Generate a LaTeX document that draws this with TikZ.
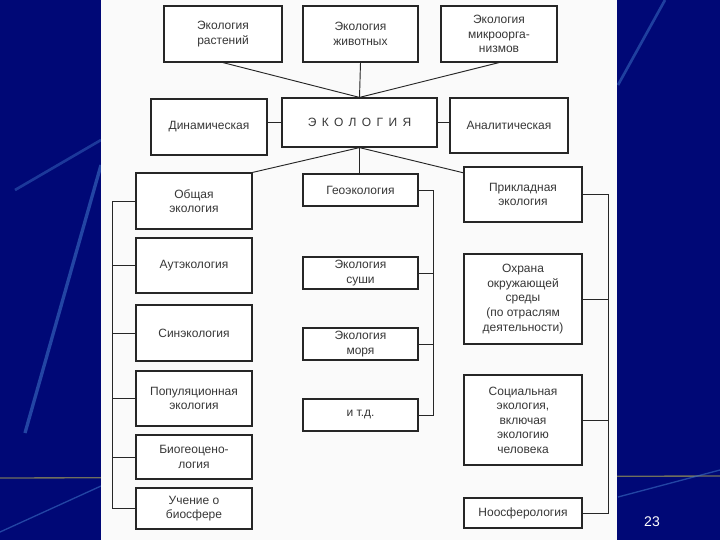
\documentclass[tikz,border=0pt]{standalone}
\usepackage{fontspec}
\setmainfont{Liberation Sans}
\usepackage{xcolor}
\definecolor{slidebg}{RGB}{0,8,118}
\definecolor{streak}{RGB}{70,130,210}
\definecolor{paper}{RGB}{250,250,250}
\definecolor{inkgray}{RGB}{55,55,55}

\begin{document}
\begin{tikzpicture}[x=0.75pt, y=-0.75pt,
        box/.style={rectangle,draw=black!85,fill=white,line width=0.9pt,
          text=inkgray,align=center,inner sep=1pt,
          font=\fontsize{9}{10.9}\selectfont},
        link/.style={draw=black!85,line width=0.7pt}]
  % slide background
  \useasboundingbox (0,0) rectangle (720,540);
  \fill[slidebg] (0,0) rectangle (720,540);
  \draw[streak,line width=2pt,opacity=0.4] (15,190) -- (101,140);
  \draw[streak,line width=2.5pt,opacity=0.5] (25,433) -- (101,165);
  \draw[streak,line width=2pt,opacity=0.45] (618,85) -- (665,0);
  \draw[olive!60!white,line width=1pt,opacity=0.6] (0,478) -- (720,476);
  \draw[streak,line width=1pt,opacity=0.5] (0,532) -- (101,486);
  \draw[streak,line width=1pt,opacity=0.5] (618,497) -- (720,470);
  \fill[paper] (101,0) rectangle (617,540);

  % top row
  \node[box,minimum width=88.5pt,minimum height=42pt] (rast) at (223,34) {Экология\\растений};
  \node[box,minimum width=86.25pt,minimum height=42pt] (zhiv) at (360.5,34) {Экология\\животных};
  \node[box,minimum width=87pt,minimum height=42pt] (mikro) at (499,34) {Экология\\микроорга-\\низмов};

  % centre row
  \node[box,minimum width=87pt,minimum height=42pt] (dinam) at (209,127) {Динамическая};
  \node[box,minimum width=116.25pt,minimum height=36.75pt] (ekol) at (359.5,122.5)
    {\addfontfeatures{LetterSpace=45}ЭКОЛОГИЯ};
  \node[box,minimum width=88.5pt,minimum height=41.25pt] (analit) at (509,125.5) {Аналитическая};

  % left column
  \node[box,minimum width=87pt,minimum height=42pt] (obsh) at (194,201) {Общая\\экология};
  \node[box,minimum width=87pt,minimum height=41.25pt] (aut) at (194,265.5) {Аутэкология};
  \node[box,minimum width=87pt,minimum height=42pt] (sin) at (194,333) {Синэкология};
  \node[box,minimum width=87pt,minimum height=41.25pt] (pop) at (194,398.5) {Популяционная\\экология};
  \node[box,minimum width=87pt,minimum height=33pt] (biog) at (194,457) {Биогеоцено-\\логия};
  \node[box,minimum width=87pt,minimum height=30.75pt] (uch) at (194,508.5) {Учение о\\биосфере};

  % middle column
  \node[box,minimum width=86.25pt,minimum height=24pt] (geo) at (360.5,190) {Геоэкология};
  \node[box,minimum width=86.25pt,minimum height=24pt] (sush) at (360.5,273) {Экология\\суши};
  \node[box,minimum width=86.25pt,minimum height=24pt] (mor) at (360.5,344) {Экология\\моря};
  \node[box,minimum width=86.25pt,minimum height=24pt] (itd) at (360.5,415) {и т.д.};

  % right column
  \node[box,minimum width=88.5pt,minimum height=41.25pt] (prikl) at (523,194.5) {Прикладная\\экология};
  \node[box,minimum width=88.5pt,minimum height=67.5pt] (ohr) at (523,299)
    {Охрана\\окружающей\\среды\\(по отраслям\\деятельности)};
  \node[box,minimum width=88.5pt,minimum height=67.5pt] (soc) at (523,420)
    {Социальная\\экология,\\включая\\экологию\\человека};
  \node[box,minimum width=88.5pt,minimum height=22.5pt] (noo) at (523,513) {Ноосферология};

  % bracket positions
  \coordinate (lbar) at (112,0);
  \coordinate (mbar) at (433,0);
  \coordinate (rbar) at (608,0);

  % links round the centre
  \draw[link] (rast.south) -- (ekol.north);
  \draw[link] (zhiv.south) -- (ekol.north);
  \draw[link] (mikro.south) -- (ekol.north);
  \draw[link] (ekol.west) -- (ekol.west -| dinam.east);
  \draw[link] (ekol.east) -- (ekol.east -| analit.west);
  \draw[link] (ekol.south) -- (obsh.north east);
  \draw[link] (ekol.south) -- (ekol.south |- geo.north);
  \draw[link] (ekol.south) -- (prikl.160);

  % brackets
  \draw[link] (obsh.west) -| (lbar |- uch.west) -- (uch.west);
  \foreach \n in {aut,sin,pop,biog}
    \draw[link] (\n.west) -- (\n.west -| lbar);
  \draw[link] (geo.east) -| (mbar |- itd.east) -- (itd.east);
  \foreach \n in {sush,mor}
    \draw[link] (\n.east) -- (\n.east -| mbar);
  \draw[link] (prikl.east) -| (rbar |- noo.east) -- (noo.east);
  \foreach \n in {ohr,soc}
    \draw[link] (\n.east) -- (\n.east -| rbar);

  % slide number
  \node[text=white,font=\fontsize{10.5}{12}\selectfont] (num) at (652,522) {23};
\end{tikzpicture}
\end{document}
